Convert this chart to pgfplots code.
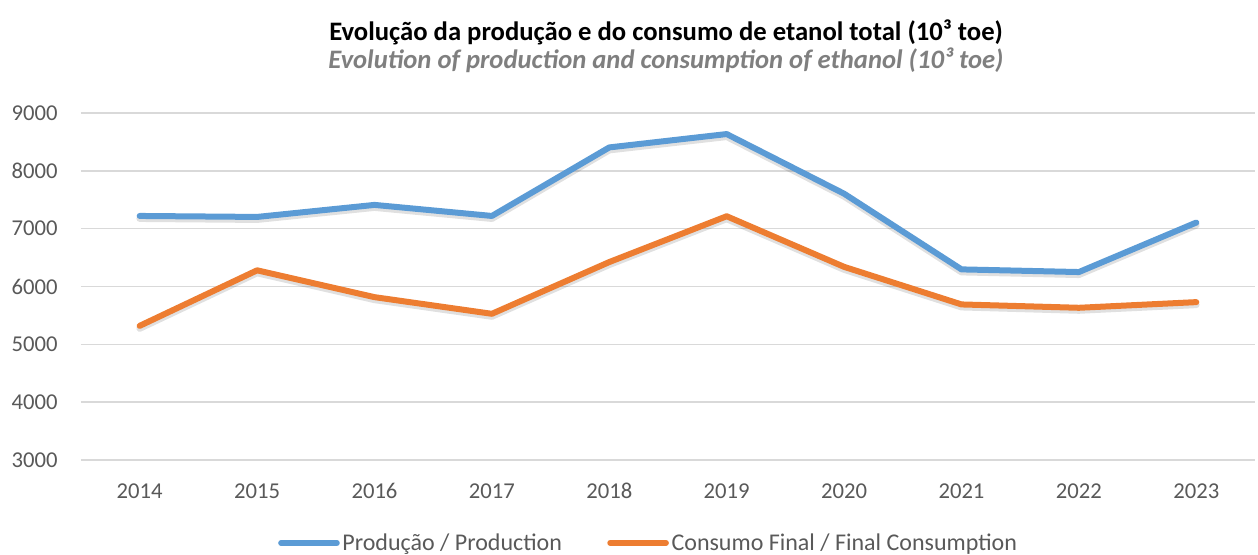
\documentclass[border=0pt]{standalone}
\usepackage{pgfplots}
\pgfplotsset{compat=1.18}
\usepackage{fontspec}
\setmainfont{Carlito}
\definecolor{prodblue}{HTML}{5B9BD5}
\definecolor{consorange}{HTML}{ED7D31}
\definecolor{gridgray}{HTML}{D9D9D9}
\definecolor{ticktext}{HTML}{595959}
\definecolor{subgray}{HTML}{7F7F7F}
\begin{document}
\begin{tikzpicture}
\useasboundingbox (0pt,0pt) rectangle (943.5pt,-415.5pt);
\begin{axis}[
  at={(60.75pt,-345pt)}, anchor=south west,
  scale only axis,
  width=880.5pt, height=260.25pt,
  xmin=-0.5, xmax=9.5,
  ymin=3000, ymax=9000,
  xtick={0,...,9},
  xticklabels={2014,2015,2016,2017,2018,2019,2020,2021,2022,2023},
  ytick={3000,4000,5000,6000,7000,8000,9000},
  ymajorgrids, grid style={gridgray, line width=1.1pt},
  axis line style={draw=none},
  major tick length=0pt,
  tick label style={font=\fontsize{17}{20}\selectfont, text=ticktext},
  /pgf/number format/assume math mode=true,
  /pgf/number format/1000 sep={},
  xticklabel style={yshift=-14pt},
  yticklabel style={xshift=-14pt},
  legend columns=2,
  legend style={draw=none, fill=none, at={(0.4838,-0.239)}, anchor=center,
    font=\fontsize{18}{21}\selectfont, text=ticktext,
    /tikz/every even column/.append style={column sep=32pt},
    inner sep=0pt},
  legend image code/.code={\draw[#1, line width=4.2pt, line cap=round] (0pt,0pt) -- (42pt,0pt);},
]
\addplot[black, opacity=0.12, line width=5pt, line join=round, line cap=round, yshift=-2pt, forget plot] coordinates {
(0,7220)(1,7203)(2,7411)(3,7220)(4,8405)(5,8636)(6,7605)(7,6296)(8,6250)(9,7106)};
\addplot[black, opacity=0.12, line width=5pt, line join=round, line cap=round, yshift=-2pt, forget plot] coordinates {
(0,5320)(1,6280)(2,5816)(3,5528)(4,6423)(5,7215)(6,6340)(7,5690)(8,5632)(9,5730)};
\addplot[prodblue, line width=4.5pt, line join=round, line cap=round] coordinates {
(0,7220)(1,7203)(2,7411)(3,7220)(4,8405)(5,8636)(6,7605)(7,6296)(8,6250)(9,7106)};
\addlegendentry{Produção / Production}
\addplot[consorange, line width=4.5pt, line join=round, line cap=round] coordinates {
(0,5320)(1,6280)(2,5816)(3,5528)(4,6423)(5,7215)(6,6340)(7,5690)(8,5632)(9,5730)};
\addlegendentry{Consumo Final / Final Consumption}
\end{axis}
\node[font=\bfseries\fontsize{20}{24}\selectfont, text=black] at (499.5pt,-24pt) {Evolução da produção e do consumo de etanol total (10³ toe)};
\node[font=\bfseries\itshape\fontsize{20}{24}\selectfont, text=subgray] at (499.5pt,-45.5pt) {Evolution of production and consumption of ethanol (10³ toe)};
\end{tikzpicture}
\end{document}
